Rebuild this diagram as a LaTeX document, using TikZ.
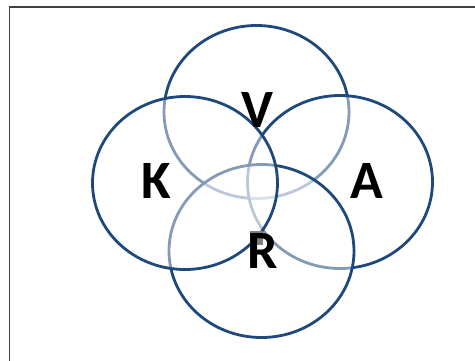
\documentclass[tikz,border=0pt]{standalone}
\usepackage{fontspec}
\usepackage{tikz}
\usetikzlibrary{shapes.geometric}
\newfontfamily\setfont{Carlito}
\definecolor{setblue}{HTML}{1F497D}
\definecolor{framegray}{HTML}{404040}
\tikzset{
    setring/.style={ellipse,draw=setblue,line width=2.8pt,fill=white,fill opacity=0.45,
        minimum width=185pt,minimum height=173pt,inner sep=0pt},
    setlabel/.style={font=\setfont\bfseries\fontsize{54}{60}\selectfont,text=black,inner sep=0pt},
    frameline/.style={draw=framegray,line width=1.2pt}
}

\begin{document}
\begin{tikzpicture}[x=1pt,y=-1pt]
\useasboundingbox (0,0) rectangle (475,360);
\draw[frameline] (9.5,362) -- (9.5,7) -- (477,7);
% rings, back to front
\node[setring] (v) at (256.5,112) {};
\node[setring] (a) at (340,182) {};
\node[setring] (r) at (261.5,251) {};
\node[setring] (k) at (185,183) {};
\node[fill=black!50,fill opacity=1,minimum width=13pt,minimum height=14pt,inner sep=0pt] (rbox) at (256,238) {};
% letters
\node[setlabel] (vl) at (257,110) {V};
\node[setlabel] (kl) at (156,181) {K};
\node[setlabel] (al) at (367,181) {A};
\node[setlabel] (rl) at (263,251) {R};
\end{tikzpicture}
\end{document}
